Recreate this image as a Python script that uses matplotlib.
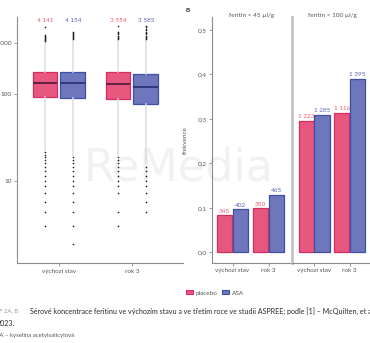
import numpy as np
import matplotlib
matplotlib.use("Agg")
import matplotlib.pyplot as plt
from matplotlib.patches import Patch
from matplotlib.transforms import blended_transform_factory
from matplotlib.ticker import FuncFormatter

plt.rcParams['font.family'] = ['Lato', 'DejaVu Sans']

# ---- data -------------------------------------------------------------
timepoints = ["výchozí stav", "rok 3"]
group_names = ["placebo", "ASA"]

# panel A: serum ferritin distribution (µg/l), per time point
placebo_n = [4141, 3554]
asa_n = [4154, 3585]

placebo_q1 = [88, 83]
placebo_med = [149, 145]
placebo_q3 = [240, 240]
placebo_whislo = [19, 17]
placebo_whishi = [1050, 1150]

asa_q1 = [84, 70]
asa_med = [152, 127]
asa_q3 = [240, 216]
asa_whislo = [17, 14]
asa_whishi = [1150, 1150]

placebo_low_out = [[5, 6, 7, 8, 9, 10, 11, 12, 13, 14, 15, 16, 17, 18],
                   [5, 6, 8, 9, 10, 11, 12, 13, 14, 15, 16]]
asa_low_out = [[4, 5, 6, 7, 8, 9, 10, 11, 12, 13, 14, 15, 16],
               [6, 7, 8, 9, 10, 11, 12, 13]]
placebo_high_out = [[1100, 1160, 1230, 1300, 1380, 1460, 1550, 2600],
                    [1220, 1300, 1400, 1500, 1620, 1750, 1900, 2700]]
asa_high_out = [[1220, 1300, 1400, 1500, 1600, 1700, 1800, 1900],
                [1220, 1300, 1400, 1500, 1620, 1750, 1900, 2050, 2250, 2450, 2700]]

# panel B: number of participants below the ferritin cut-off
cutoff_titles = ["feritin < 45 µl/g", "feritin < 100 µl/g"]
placebo_below45 = [345, 350]
asa_below45 = [402, 465]
placebo_below100 = [1223, 1116]
asa_below100 = [1285, 1395]

# ---- style ------------------------------------------------------------
PL_FILL, PL_EDGE, PL_MED, PL_TXT = "#e8587e", "#d62b63", "#3a1530", "#ec5a6e"
AS_FILL, AS_EDGE, AS_MED, AS_TXT = "#6e76bc", "#3d4fa6", "#1e2a6a", "#5a62b4"
SPINE = "#8c8c8c"
TXT = "#555555"
FS = 4.6

W, H = 370, 343


def fig_box(x0, y0, x1, y1):
    return [x0 / W, 1 - y1 / H, (x1 - x0) / W, (y1 - y0) / H]


def space_thousands(n):
    return f"{n:,}".replace(",", " ")


fig = plt.figure(figsize=(W / 100, H / 100), dpi=100)

# faint publisher watermark behind everything
fig.text(84 / W, 1 - 168 / H, "ReMedia", fontsize=32, color="#f1f1f1",
         family="DejaVu Sans", va="center", ha="left", zorder=-5)

# ---- panel A: box plots on a log-log axis -------------------------------
axA = fig.add_axes(fig_box(17, 17, 183, 263))
axA.set_facecolor("none")


def fwd(v):
    v = np.clip(np.asarray(v, dtype=float), 1.0001, None)
    return np.log10(np.log10(v))


def inv(y):
    return 10 ** (10 ** np.asarray(y, dtype=float))


axA.set_yscale("function", functions=(fwd, inv))

offset, bw = 0.19, 0.34
xs = np.arange(len(timepoints))
series = [
    (placebo_q1, placebo_med, placebo_q3, placebo_whislo, placebo_whishi,
     placebo_low_out, placebo_high_out, PL_FILL, PL_EDGE, PL_MED, -offset),
    (asa_q1, asa_med, asa_q3, asa_whislo, asa_whishi,
     asa_low_out, asa_high_out, AS_FILL, AS_EDGE, AS_MED, offset),
]
for q1, med, q3, lo, hi, low_out, high_out, fc, ec, mc, dx in series:
    stats = []
    for i in range(len(timepoints)):
        stats.append(dict(q1=q1[i], med=med[i], q3=q3[i], whislo=lo[i], whishi=hi[i],
                          fliers=np.array(low_out[i] + high_out[i], dtype=float)))
    axA.bxp(stats, positions=xs + dx, widths=bw, patch_artist=True,
            showcaps=False, manage_ticks=False,
            boxprops=dict(facecolor=fc, edgecolor=ec, linewidth=0.9),
            medianprops=dict(color=mc, linewidth=1.1),
            whiskerprops=dict(color="#dcdde5", linewidth=1.1),
            flierprops=dict(marker="o", markersize=1.2, markerfacecolor="#222222",
                            markeredgecolor="none"))

axA.set_xlim(-0.575, 1.70)
axA.set_ylim(3.3, 4840)
axA.set_yticks([10, 100, 1000])
axA.set_yticklabels(["10", "100", "1 000"])
axA.yaxis.set_minor_locator(matplotlib.ticker.NullLocator())
axA.set_xticks(xs)
axA.set_xticklabels(timepoints)

count_tr = blended_transform_factory(axA.transData, fig.transFigure)
for i in range(len(timepoints)):
    axA.text(xs[i] - offset, 1 - 21 / H, space_thousands(placebo_n[i]), color=PL_TXT,
             fontsize=FS, ha="center", va="center", transform=count_tr)
    axA.text(xs[i] + offset, 1 - 21 / H, space_thousands(asa_n[i]), color=AS_TXT,
             fontsize=FS, ha="center", va="center", transform=count_tr)

# ---- panel B: frequency bars in two facets ----------------------------
ylims = (-0.0234, 0.5288)
axB1 = fig.add_axes(fig_box(212, 17, 292, 262.7))
axB2 = fig.add_axes(fig_box(292, 17, 372, 262.7))
facets = [
    (axB1, placebo_below45, asa_below45),
    (axB2, placebo_below100, asa_below100),
]
bdx, bwid = 0.22, 0.43
for ax, pl_cnt, as_cnt in facets:
    ax.set_facecolor("none")
    pl_freq = np.array(pl_cnt) / np.array(placebo_n)
    as_freq = np.array(as_cnt) / np.array(asa_n)
    ax.bar(xs - bdx, pl_freq, width=bwid, color=PL_FILL, edgecolor=PL_EDGE, linewidth=0.9)
    ax.bar(xs + bdx, as_freq, width=bwid, color=AS_FILL, edgecolor=AS_EDGE, linewidth=0.9)
    for i in range(len(timepoints)):
        ax.annotate(space_thousands(pl_cnt[i]), (xs[i] - bdx, pl_freq[i]),
                    xytext=(0, 1.2), textcoords="offset points", ha="center",
                    va="bottom", fontsize=FS, color=PL_TXT)
        ax.annotate(space_thousands(as_cnt[i]), (xs[i] + bdx, as_freq[i]),
                    xytext=(0, 1.2), textcoords="offset points", ha="center",
                    va="bottom", fontsize=FS, color=AS_TXT)
    ax.set_ylim(*ylims)
    ax.set_xticks(xs)
    ax.set_xticklabels(timepoints)

axB1.set_xlim(-0.57, 1.65)
axB2.set_xlim(-0.62, 1.63)
axB1.set_yticks(np.arange(0, 0.51, 0.1))
axB1.yaxis.set_major_formatter(FuncFormatter(lambda v, p: f"{v:.1f}".replace(".", ",")))
axB1.set_ylabel("frekvence", fontsize=FS, color=TXT)
axB1.yaxis.set_label_coords(-0.30, 0.5)
axB2.tick_params(axis="y", left=False, labelleft=False)

for ax in (axA, axB1, axB2):
    for s in ("top", "right"):
        ax.spines[s].set_visible(False)
    for s in ("left", "bottom"):
        ax.spines[s].set_color(SPINE)
        ax.spines[s].set_linewidth(0.8)
    ax.tick_params(length=2.5, width=0.6, color=SPINE, labelsize=FS,
                   labelcolor=TXT, pad=1.5)
axB2.spines["left"].set_color("#c4c4c4")
axB2.spines["left"].set_linewidth(2.0)

for title, cx in zip(cutoff_titles, (252, 332)):
    fig.text(cx / W, 1 - 15 / H, title, fontsize=FS, color=TXT, ha="center", va="center")
fig.text(185 / W, 1 - 11 / H, "B", fontsize=FS, color="#333333", weight="bold",
         ha="left", va="center")

# ---- legend and caption -------------------------------------------------
handles = [Patch(facecolor=PL_FILL, edgecolor=PL_EDGE, linewidth=0.8),
           Patch(facecolor=AS_FILL, edgecolor=AS_EDGE, linewidth=0.8)]
fig.legend(handles, group_names, loc="center", bbox_to_anchor=(215 / W, 1 - 293 / H),
           ncol=2, frameon=False, fontsize=FS, handlelength=1.1, handleheight=0.6,
           columnspacing=0.8, handletextpad=0.4, labelcolor=TXT)

fig.text(-13 / W, 1 - 311 / H, "GRAF 2A, B", fontsize=4.3, color="#999999",
         ha="left", va="center")
fig.text(30 / W, 1 - 311 / H,
         "Sérové koncentrace feritinu ve výchozím stavu a ve třetím roce ve studii ASPREE; "
         "podle [1] – McQuilten, et al.,",
         fontsize=5.15, color="#3a3a3a", ha="left", va="center", weight="medium")
fig.text(-3 / W, 1 - 323 / H, "2023.", fontsize=5.15, color="#3a3a3a",
         ha="left", va="center", weight="medium")
fig.text(-8 / W, 1 - 335 / H, "ASA – kyselina acetylsalicylová", fontsize=4.3,
         color="#555555", ha="left", va="center")

fig.savefig("out.png", dpi=100)
